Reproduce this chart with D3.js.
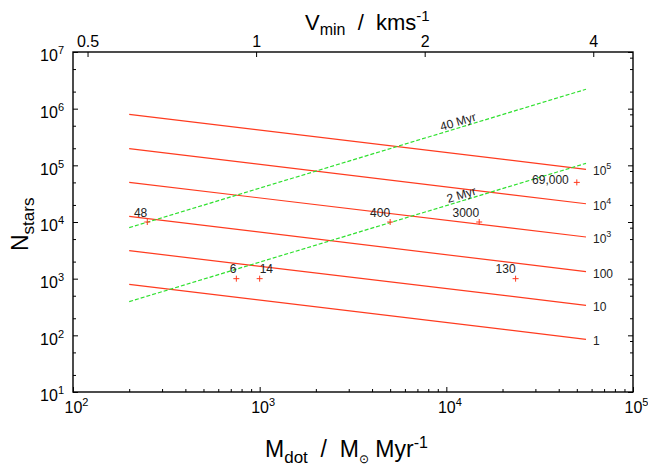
<!DOCTYPE html>
<html>
<head>
<meta charset="utf-8">
<script src="https://cdn.jsdelivr.net/npm/d3@7"></script>
<style>
  body { margin: 0; background: #fff; }
  text { font-family: "Liberation Sans", Arial, Helvetica, sans-serif; }
  .domain { display: none; }
  .tick line { stroke: #000; stroke-width: 1; }
</style>
</head>
<body>
<div id="chart"></div>
<script>
var width = 648, height = 466;

var margin = {top: 52, right: 15, bottom: 74, left: 73},
    w = width - margin.left - margin.right,
    h = height - margin.top - margin.bottom;

// data
var mdotEnds = [200, 56000];                       // x extent of the model lines
var countLabels = ["1", "10", "100", "10^3", "10^4", "10^5"];
var countLeft  = [796, 3120, 12600, 50200, 197000, 796000];
var countRight = [85, 339, 1330, 5430, 21000, 85000];

var ageLabels = ["40 Myr", "2 Myr"];
var ageLeft  = [7940, 393];
var ageRight = [2200000, 108600];
var ageLabelAt = [11800, 12300];

var ptMdot   = [250, 750, 1000, 5000, 15000, 23500, 50000];
var ptN      = [1e4, 1e3, 1e3, 1e4, 1e4, 1e3, 5e4];
var ptLabels = ["48", "6", "14", "400", "3000", "130", "69,000"];
var ptAnchor = ["end", "end", "start", "end", "end", "end", "end"];

var xMajor = [1e2, 1e3, 1e4, 1e5],
    yMajor = [1e1, 1e2, 1e3, 1e4, 1e5, 1e6, 1e7],
    vTicks = [0.5, 1, 2, 4],
    y2Ticks = [1e2, 1e3, 1e4, 1e5, 1e6, 1e7];

var red = "#ff3b1f", green = "#2fe02f";
var sp = "\u00a0";

var svg = d3.select("#chart").append("svg")
    .attr("width", width)
    .attr("height", height);

var g = svg.append("g").attr("transform", "translate(" + margin.left + "," + margin.top + ")");

var x = d3.scaleLog().range([0, w]).domain([1e2, 1e5]),
    y = d3.scaleLog().range([h, 0]).domain([1e1, 1e7]),
    v = d3.scaleLog().range([0, w]).domain([0.471, 4.71]),
    y2 = d3.scaleLog().range([h, 0]).domain([Math.pow(10, 1.1), Math.pow(10, 7.1)]);

function minors(lo, hi, steps) {
    var out = [];
    for (var e = lo; e < hi; e++)
        steps.forEach(function(s) { out.push(s * Math.pow(10, e)); });
    return out;
}
var xMinor = minors(2, 5, [2, 3, 4, 5, 6, 7, 8, 9]),
    yMinor = minors(1, 7, [2, 5]);

function powLabel(sel, size) {
    sel.each(function(d) {
        var t = d3.select(this).text(null),
            e = Math.round(Math.log10(d));
        t.append("tspan").text("10");
        t.append("tspan").attr("dy", -7).attr("font-size", size).text(e);
    });
}

drawAxes();
drawLines();
drawPoints();
drawTitles();

function drawAxes() {
    // bottom
    g.append("g").attr("transform", "translate(0," + h + ")")
        .call(d3.axisBottom(x).tickValues(xMinor).tickSize(-3).tickFormat(""));
    var bx = g.append("g").attr("transform", "translate(0," + h + ")")
        .call(d3.axisBottom(x).tickValues(xMajor).tickSize(-5).tickPadding(10));
    bx.selectAll(".tick text").attr("font-size", 16).attr("fill", "#000")
        .attr("dx", 3).call(powLabel, 11);

    // left
    g.append("g").call(d3.axisLeft(y).tickValues(yMinor).tickSize(-3).tickFormat(""));
    var ly = g.append("g").call(d3.axisLeft(y).tickValues(yMajor).tickSize(-5).tickPadding(9));
    ly.selectAll(".tick text").attr("font-size", 16).attr("fill", "#000")
        .attr("dy", "0.55em").call(powLabel, 11);

    // right: mirrored ticks plus a second set
    g.append("g").attr("transform", "translate(" + w + ",0)")
        .call(d3.axisRight(y).tickValues(yMinor).tickSize(-3).tickFormat(""));
    g.append("g").attr("transform", "translate(" + w + ",0)")
        .call(d3.axisRight(y).tickValues(yMajor).tickSize(-5).tickFormat(""));
    g.append("g").attr("transform", "translate(" + w + ",0)")
        .call(d3.axisRight(y2).tickValues(y2Ticks).tickSize(-3).tickFormat(""));

    // top
    var tx = g.append("g")
        .call(d3.axisTop(v).tickValues(vTicks).tickSize(-5).tickPadding(5).tickFormat(d3.format("")));
    tx.selectAll(".tick text").attr("font-size", 16).attr("fill", "#000");

    g.append("rect")
        .attr("width", w).attr("height", h)
        .attr("fill", "none").attr("stroke", "#000").attr("stroke-width", 1.4);
}

function drawLines() {
    var lines = countLabels.map(function(l, i) {
        return {label: l, a: [mdotEnds[0], countLeft[i]], b: [mdotEnds[1], countRight[i]]};
    });
    g.selectAll(".count")
        .data(lines)
        .enter().append("line")
        .attr("class", "count")
        .attr("x1", function(d) { return x(d.a[0]); })
        .attr("y1", function(d) { return y(d.a[1]); })
        .attr("x2", function(d) { return x(d.b[0]); })
        .attr("y2", function(d) { return y(d.b[1]); })
        .attr("stroke", red).attr("stroke-width", 1.2);

    g.selectAll(".countlab")
        .data(lines)
        .enter().append("text")
        .attr("class", "countlab")
        .attr("x", function(d) { return x(d.b[0]) + 7; })
        .attr("y", function(d) { return y(d.b[1]) + 6; })
        .attr("font-size", 12).attr("fill", "#222")
        .each(function(d) {
            var t = d3.select(this), p = d.label.split("^");
            t.append("tspan").text(p[0]);
            if (p[1]) t.append("tspan").attr("dy", -6).attr("font-size", 9).text(p[1]);
        });

    var ages = ageLabels.map(function(l, i) {
        return {label: l, a: [mdotEnds[0], ageLeft[i]], b: [mdotEnds[1], ageRight[i]], at: ageLabelAt[i]};
    });
    g.selectAll(".age")
        .data(ages)
        .enter().append("line")
        .attr("class", "age")
        .attr("x1", function(d) { return x(d.a[0]); })
        .attr("y1", function(d) { return y(d.a[1]); })
        .attr("x2", function(d) { return x(d.b[0]); })
        .attr("y2", function(d) { return y(d.b[1]); })
        .attr("stroke", green).attr("stroke-width", 1.2)
        .attr("stroke-dasharray", "4,2");

    g.selectAll(".agelab")
        .data(ages)
        .enter().append("text")
        .attr("class", "agelab")
        .attr("transform", function(d) {
            var x1 = x(d.a[0]), y1 = y(d.a[1]), x2 = x(d.b[0]), y2p = y(d.b[1]);
            var px = x(d.at), py = y1 + (y2p - y1) * (px - x1) / (x2 - x1);
            var ang = Math.atan2(y2p - y1, x2 - x1) * 180 / Math.PI;
            return "translate(" + px + "," + py + ") rotate(" + ang + ")";
        })
        .attr("dy", -2)
        .attr("text-anchor", "middle")
        .attr("font-size", 12).attr("fill", "#222")
        .text(function(d) { return d.label; });
}

function drawPoints() {
    var pts = ptMdot.map(function(m, i) {
        return {m: m, n: ptN[i], label: ptLabels[i], anchor: ptAnchor[i]};
    });
    g.selectAll(".pt")
        .data(pts)
        .enter().append("path")
        .attr("class", "pt")
        .attr("transform", function(d) { return "translate(" + x(d.m) + "," + y(d.n) + ")"; })
        .attr("d", "M-3,0H3M0,-3V3")
        .attr("stroke", red).attr("stroke-width", 1);

    g.selectAll(".ptlab")
        .data(pts)
        .enter().append("text")
        .attr("class", "ptlab")
        .attr("x", function(d, i) { return x(d.m) + (i === 6 ? -8 : 0); })
        .attr("y", function(d, i) { return y(d.n) + (i === 6 ? 2 : -5.5); })
        .attr("text-anchor", function(d) { return d.anchor; })
        .attr("font-size", 12).attr("fill", "#222")
        .text(function(d) { return d.label; });
}

function drawTitles() {
    var bt = svg.append("text")
        .attr("x", 265).attr("y", 457)
        .attr("font-size", 23).attr("fill", "#000");
    bt.append("tspan").text("M");
    bt.append("tspan").attr("dy", 6).attr("font-size", 17).text("dot");
    bt.append("tspan").attr("dy", -6).text(sp + sp + "/" + sp + sp + "M");
    bt.append("tspan").attr("dy", 6).attr("font-size", 12).text("\u2299");
    bt.append("tspan").attr("dy", -6).text(sp + "Myr");
    bt.append("tspan").attr("dy", -9).attr("font-size", 16).text("-1");

    var tt = svg.append("text")
        .attr("x", 305).attr("y", 30)
        .attr("font-size", 22).attr("fill", "#000");
    tt.append("tspan").text("V");
    tt.append("tspan").attr("dy", 5).attr("font-size", 16).text("min");
    tt.append("tspan").attr("dy", -5).text(sp + sp + "/" + sp + sp + "kms");
    tt.append("tspan").attr("dy", -9).attr("font-size", 15).text("-1");

    var yt = svg.append("text")
        .attr("transform", "translate(28,251) rotate(-90)")
        .attr("font-size", 23).attr("fill", "#000");
    yt.append("tspan").text("N");
    yt.append("tspan").attr("dy", 6).attr("font-size", 17).text("stars");
}
</script>
</body>
</html>
